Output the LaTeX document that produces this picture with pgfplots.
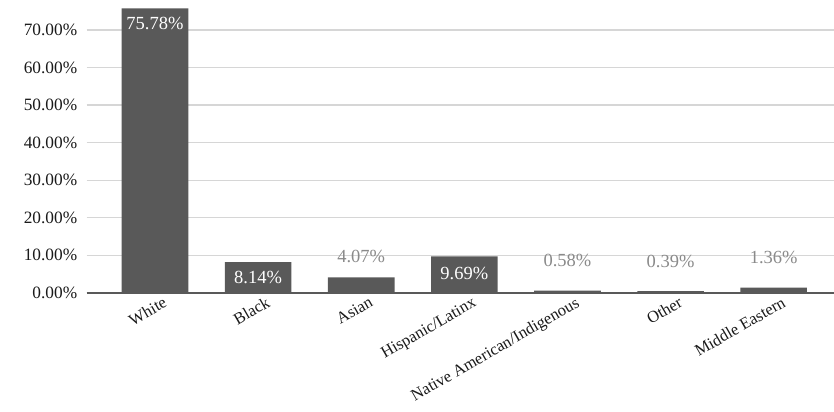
\documentclass[border=0pt]{standalone}
\usepackage{fontspec}
\setmainfont{Liberation Serif}
\usepackage{pgfplots}
\pgfplotsset{compat=1.18}
\usepackage{pgfplotstable}
\definecolor{barc}{HTML}{595959}
\definecolor{gridc}{HTML}{D6D6D6}
\definecolor{textc}{HTML}{1A1A1A}
\definecolor{lblc}{HTML}{8A8A8A}
\pgfplotstableread{
x y
0 75.78
1 8.14
2 4.07
3 9.69
4 0.58
5 0.39
6 1.36
}\data
\pgfplotstableread{
x y off
0 75.78 -15
1 8.14 -15.5
3 9.69 -17
}\inlab
\pgfplotstableread{
x y off
2 4.07 21
4 0.58 30
5 0.39 29.5
6 1.36 30
}\outlab
\begin{document}
\begin{tikzpicture}
\begin{axis}[name=ax,
  scale only axis, width=747.3bp, height=285.2bp,
  xmin=-0.662, xmax=6.585, ymin=0, ymax=76,
  ybar, bar shift=0pt, bar width=0.646,
  ytick={0,10,...,70},
  xtick={0,...,6},
  xticklabels={White,Black,Asian,Hispanic/Latinx,Native American/Indigenous,Other,Middle Eastern},
  major tick length=0pt,
  ymajorgrids, grid style={color=gridc, line width=1.2bp},
  axis x line*=bottom, axis y line*=left,
  y axis line style={draw=none},
  x axis line style={-, color=barc, line width=1.6bp},
  yticklabel={\pgfmathprintnumber[fixed,fixed zerofill,precision=2,assume math mode=true]{\tick}\%},
  yticklabel style={font=\fontsize{17.3bp}{20bp}\selectfont, color=textc, xshift=-6bp},
  xticklabel style={rotate=30, anchor=north east, font=\fontsize{16.5bp}{19bp}\selectfont, color=textc, xshift=8bp, yshift=-3bp},
  clip=false,
]
\addplot[fill=barc, draw=none] table[x=x,y=y]{\data};
\addplot[draw=none, fill=none,
  visualization depends on={\thisrow{off}\as\off},
  nodes near coords={\pgfmathprintnumber[fixed,fixed zerofill,precision=2,assume math mode=true]{\pgfplotspointmeta}\%},
  every node near coord/.append style={anchor=center, yshift=\off bp, color=white, font=\fontsize{18.5bp}{21bp}\selectfont}]
  table[x=x,y=y]{\inlab};
\addplot[draw=none, fill=none,
  visualization depends on={\thisrow{off}\as\off},
  nodes near coords={\pgfmathprintnumber[fixed,fixed zerofill,precision=2,assume math mode=true]{\pgfplotspointmeta}\%},
  every node near coord/.append style={anchor=center, yshift=\off bp, color=lblc, font=\fontsize{18.5bp}{21bp}\selectfont}]
  table[x=x,y=y]{\outlab};
\end{axis}
\pgfresetboundingbox
\path[use as bounding box] ([shift={(-86.7bp,-119.3bp)}]ax.south west) rectangle ++(834bp,412bp);
\end{tikzpicture}
\end{document}
